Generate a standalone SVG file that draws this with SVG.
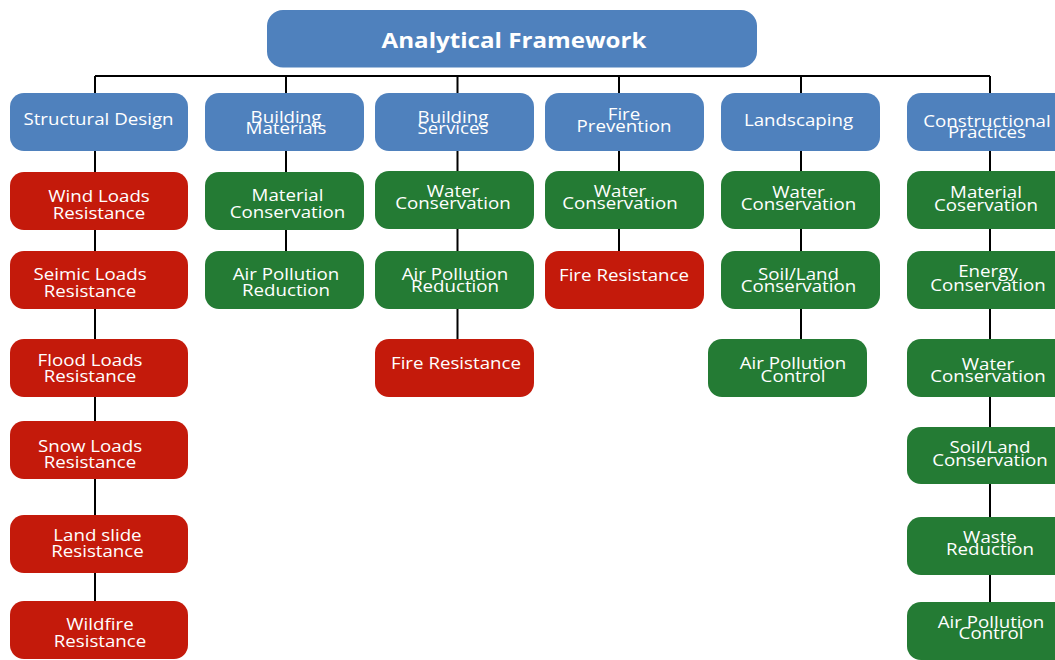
<svg xmlns="http://www.w3.org/2000/svg" width="1055" height="660" viewBox="0 0 1055 660">
<style>
.b{fill:#4F81BD}
.r{fill:#C41A0B}
.g{fill:#247B34}
.t{font-family:"Open Sans","Liberation Sans",sans-serif;font-size:16px;fill:#fff;text-anchor:middle}
.h{font-family:"Open Sans","Liberation Sans",sans-serif;font-size:21px;font-weight:bold;fill:#fff;text-anchor:middle}
.c{stroke:#000;stroke-width:2;fill:none}
</style>
<rect width="1055" height="660" fill="#fff"/>
<g id="connectors" class="c">
<path d="M95 76 H990"/>
<path d="M95 76 V601"/>
<path d="M286 76 V251"/>
<path d="M457.5 76 V339"/>
<path d="M619 76 V251"/>
<path d="M801 76 V339"/>
<path d="M990 76 V602"/>
</g>
<g id="title"><rect class="b" x="267" y="10" width="490" height="57.5" rx="16"/><text class="h" transform="translate(514 0) scale(1.15 1)" y="48.3">Analytical Framework</text></g>

<g id="structural"><rect class="b" x="10" y="93" width="178" height="58" rx="14"/><text class="t" transform="translate(98.5 0) scale(1.17 1)" y="125.5">Structural Design</text></g>
<g id="materials"><rect class="b" x="205" y="93" width="159" height="58" rx="14"/><text class="t" transform="translate(286 0) scale(1.17 1)"><tspan x="0" y="123">Building</tspan><tspan x="0" y="134">Materials</tspan></text></g>
<g id="services"><rect class="b" x="375" y="93" width="159" height="58" rx="14"/><text class="t" transform="translate(453 0) scale(1.17 1)"><tspan x="0" y="122.7">Building</tspan><tspan x="0" y="134">Services</tspan></text></g>
<g id="fireprev"><rect class="b" x="545" y="93" width="159" height="58" rx="14"/><text class="t" transform="translate(624 0) scale(1.17 1)"><tspan x="0" y="120">Fire</tspan><tspan x="0" y="132.3">Prevention</tspan></text></g>
<g id="landscaping"><rect class="b" x="721" y="93" width="159" height="58" rx="14"/><text class="t" transform="translate(798.5 0) scale(1.17 1)" y="126.5">Landscaping</text></g>
<g id="constructional"><rect class="b" x="907" y="93" width="166" height="58" rx="14"/><text class="t" transform="translate(987 0) scale(1.17 1)"><tspan x="0" y="126.7">Constructional</tspan><tspan x="0" y="137.7">Practices</tspan></text></g>

<g id="wind"><rect class="r" x="10" y="172" width="178" height="58" rx="14"/><text class="t" transform="translate(99 0) scale(1.17 1)"><tspan x="0" y="202">Wind Loads</tspan><tspan x="0" y="219">Resistance</tspan></text></g>
<g id="seismic"><rect class="r" x="10" y="251" width="178" height="58" rx="14"/><text class="t" transform="translate(90 0) scale(1.17 1)"><tspan x="0" y="280">Seimic Loads</tspan><tspan x="0" y="296.7">Resistance</tspan></text></g>
<g id="flood"><rect class="r" x="10" y="339" width="178" height="58" rx="14"/><text class="t" transform="translate(90 0) scale(1.17 1)"><tspan x="0" y="365.7">Flood Loads</tspan><tspan x="0" y="381.7">Resistance</tspan></text></g>
<g id="snow"><rect class="r" x="10" y="421" width="178" height="58" rx="14"/><text class="t" transform="translate(90 0) scale(1.17 1)"><tspan x="0" y="452">Snow Loads</tspan><tspan x="0" y="467.7">Resistance</tspan></text></g>
<g id="landslide"><rect class="r" x="10" y="515" width="178" height="58" rx="14"/><text class="t" transform="translate(97.5 0) scale(1.17 1)"><tspan x="0" y="540.7">Land slide</tspan><tspan x="0" y="556.7">Resistance</tspan></text></g>
<g id="wildfire"><rect class="r" x="10" y="601" width="178" height="58" rx="14"/><text class="t" transform="translate(100 0) scale(1.17 1)"><tspan x="0" y="630">Wildfire</tspan><tspan x="0" y="646.7">Resistance</tspan></text></g>

<g id="bm-material"><rect class="g" x="205" y="172" width="159" height="58" rx="14"/><text class="t" transform="translate(287.5 0) scale(1.17 1)"><tspan x="0" y="201">Material</tspan><tspan x="0" y="217.7">Conservation</tspan></text></g>
<g id="bm-air"><rect class="g" x="205" y="251" width="159" height="58" rx="14"/><text class="t" transform="translate(286 0) scale(1.17 1)"><tspan x="0" y="280">Air Pollution</tspan><tspan x="0" y="295.7">Reduction</tspan></text></g>

<g id="bs-water"><rect class="g" x="375" y="171" width="159" height="58" rx="14"/><text class="t" transform="translate(453 0) scale(1.17 1)"><tspan x="0" y="196.7">Water</tspan><tspan x="0" y="208.7">Conservation</tspan></text></g>
<g id="bs-air"><rect class="g" x="375" y="251" width="159" height="58" rx="14"/><text class="t" transform="translate(455 0) scale(1.17 1)"><tspan x="0" y="280">Air Pollution</tspan><tspan x="0" y="291.7">Reduction</tspan></text></g>
<g id="bs-fire"><rect class="r" x="375" y="339" width="159" height="58" rx="14"/><text class="t" transform="translate(456 0) scale(1.17 1)" y="369">Fire Resistance</text></g>

<g id="fp-water"><rect class="g" x="545" y="171" width="159" height="58" rx="14"/><text class="t" transform="translate(620 0) scale(1.17 1)"><tspan x="0" y="196.7">Water</tspan><tspan x="0" y="208.7">Conservation</tspan></text></g>
<g id="fp-fire"><rect class="r" x="545" y="251" width="159" height="58" rx="14"/><text class="t" transform="translate(624 0) scale(1.17 1)" y="280.7">Fire Resistance</text></g>

<g id="ls-water"><rect class="g" x="721" y="171" width="159" height="58" rx="14"/><text class="t" transform="translate(798.5 0) scale(1.17 1)"><tspan x="0" y="197.7">Water</tspan><tspan x="0" y="210">Conservation</tspan></text></g>
<g id="ls-soil"><rect class="g" x="721" y="251" width="159" height="58" rx="14"/><text class="t" transform="translate(798.5 0) scale(1.17 1)"><tspan x="0" y="280">Soil/Land</tspan><tspan x="0" y="291.7">Conservation</tspan></text></g>
<g id="ls-air"><rect class="g" x="708" y="339" width="159" height="58" rx="14"/><text class="t" transform="translate(793 0) scale(1.17 1)"><tspan x="0" y="369">Air Pollution</tspan><tspan x="0" y="381.7">Control</tspan></text></g>

<g id="cp-material"><rect class="g" x="907" y="171" width="166" height="58" rx="14"/><text class="t" transform="translate(986 0) scale(1.17 1)"><tspan x="0" y="197.7">Material</tspan><tspan x="0" y="210.7">Coservation</tspan></text></g>
<g id="cp-energy"><rect class="g" x="907" y="251" width="166" height="58" rx="14"/><text class="t" transform="translate(988 0) scale(1.17 1)"><tspan x="0" y="276.7">Energy</tspan><tspan x="0" y="290.7">Conservation</tspan></text></g>
<g id="cp-water"><rect class="g" x="907" y="339" width="166" height="58" rx="14"/><text class="t" transform="translate(988 0) scale(1.17 1)"><tspan x="0" y="370">Water</tspan><tspan x="0" y="381.7">Conservation</tspan></text></g>
<g id="cp-soil"><rect class="g" x="907" y="427" width="166" height="57" rx="14"/><text class="t" transform="translate(990 0) scale(1.17 1)"><tspan x="0" y="453.3">Soil/Land</tspan><tspan x="0" y="465.7">Conservation</tspan></text></g>
<g id="cp-waste"><rect class="g" x="907" y="517" width="166" height="58" rx="14"/><text class="t" transform="translate(990 0) scale(1.17 1)"><tspan x="0" y="542.7">Waste</tspan><tspan x="0" y="555">Reduction</tspan></text></g>
<g id="cp-air"><rect class="g" x="907" y="602" width="166" height="58" rx="14"/><text class="t" transform="translate(991 0) scale(1.17 1)"><tspan x="0" y="628.3">Air Pollution</tspan><tspan x="0" y="639.3">Control</tspan></text></g>
</svg>
